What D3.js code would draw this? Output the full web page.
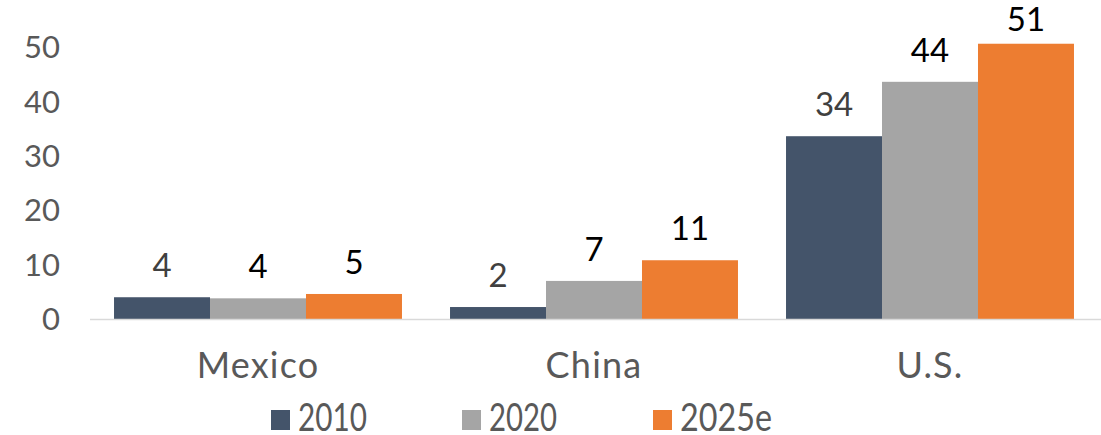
<!DOCTYPE html>
<html><head><meta charset="utf-8">
<script src="https://cdn.jsdelivr.net/npm/d3@7"></script>
<style>body{margin:0;background:#fff}svg{display:block}text{font-family:Lato,"Open Sans",sans-serif}</style>
</head><body>
<svg id="c" width="1101" height="435"></svg>
<script>
const categories = ["Mexico", "China", "U.S."];
const seriesNames = ["2010", "2020", "2025e"];
const values2010 = [4.0, 2.2, 33.6];
const values2020 = [3.8, 7.0, 43.6];
const values2025e = [4.6, 10.8, 50.6];
const yTicks = [0, 10, 20, 30, 40, 50];
const colors = ["#44546a", "#a5a5a5", "#ed7d31"];
const labelColors = ["#404040", "#000000", "#000000"];

const series = [values2010, values2020, values2025e];
const svg = d3.select("#c");
const x0 = d3.scaleBand().domain(categories).range([90, 1098]).paddingInner(0.143).paddingOuter(0.0715);
const x1 = d3.scaleBand().domain(seriesNames).range([0, x0.bandwidth()]);
const y = d3.scaleLinear().domain([0, 50]).range([319, 47]);

// y tick labels
svg.append("g").selectAll("text").data(yTicks).join("text")
  .attr("x", 60).attr("y", d => y(d)).attr("dy", "0.36em")
  .attr("text-anchor", "end").attr("fill", "#595959").attr("font-size", 31)
  .text(d => d);

// bars
const g = svg.append("g");
categories.forEach((c, ci) => {
  series.forEach((s, si) => {
    g.append("rect")
      .attr("x", x0(c) + x1(seriesNames[si]))
      .attr("y", y(s[ci]))
      .attr("width", x1.bandwidth())
      .attr("height", y(0) - y(s[ci]))
      .attr("fill", colors[si]);
    g.append("text")
      .attr("x", x0(c) + x1(seriesNames[si]) + x1.bandwidth() / 2)
      .attr("y", Math.max(31, y(s[ci]) - 20))
      .attr("text-anchor", "middle").attr("font-size", 33)
      .attr("fill", labelColors[si])
      .text(Math.round(s[ci]));
  });
});

// baseline
svg.append("line").attr("x1", 90).attr("x2", 1101).attr("y1", y(0) + 0.5).attr("y2", y(0) + 0.5)
  .attr("stroke", "#d9d9d9").attr("stroke-width", 1.5);

// category labels
svg.append("g").selectAll("text").data(categories).join("text")
  .attr("x", d => x0(d) + x0.bandwidth() / 2).attr("y", 378)
  .attr("text-anchor", "middle").attr("fill", "#595959").attr("font-size", 36)
  .attr("letter-spacing", 1.2)
  .text(d => d);

// legend
const legX = [271, 462, 653];
const legW = [69, 68, 92];
const leg = svg.append("g");
seriesNames.forEach((n, i) => {
  leg.append("rect").attr("x", legX[i]).attr("y", 410).attr("width", 19).attr("height", 20).attr("fill", colors[i]);
  leg.append("text").attr("x", legX[i] + 27).attr("y", 431).attr("fill", "#595959")
    .attr("font-size", 38).attr("textLength", legW[i]).attr("lengthAdjust", "spacingAndGlyphs")
    .text(n);
});
</script>
</body></html>
